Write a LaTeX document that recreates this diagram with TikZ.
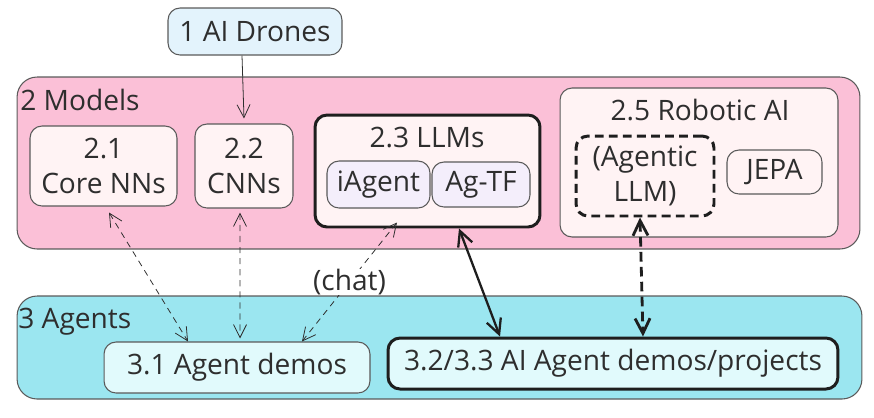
\documentclass[tikz,border=0pt]{standalone}
\usepackage{fontspec}
\setmainfont{Open Sans}
\usetikzlibrary{arrows.meta,positioning}
\definecolor{ink}       {HTML}{2E2E2E}
\definecolor{edge}      {HTML}{5A5A5A}
\definecolor{heavy}     {HTML}{1E1E1E}
\definecolor{modelpink} {HTML}{FBC0D7}
\definecolor{agentcyan} {HTML}{9BE6F0}
\definecolor{itempink}  {HTML}{FFF3F4}
\definecolor{itemlilac} {HTML}{F4EEFB}
\definecolor{dronesky}  {HTML}{E3F3FC}
\definecolor{demofill}  {HTML}{E1FAFC}
\tikzset{
  groupbox/.style  ={draw=edge, line width=0.6pt, rounded corners=0.4cm, inner sep=0pt},
  itembox/.style   ={draw=edge, fill=itempink, line width=0.6pt, rounded corners=0.24cm,
                     align=center, inner sep=0pt, text=ink,
                     font=\fontsize{16}{19.5}\selectfont},
  heavybox/.style  ={itembox, draw=heavy, line width=1.7pt},
  titletext/.style ={text=ink, inner sep=0pt, font=\fontsize{16}{19.5}\selectfont},
  thinarr/.style   ={{Straight Barb[length=2.6mm,width=2.6mm]}-{Straight Barb[length=2.6mm,width=2.6mm]},
                     line width=0.45pt, draw=ink, dash pattern=on 3.5pt off 2.8pt},
  boldarr/.style   ={{Straight Barb[length=3mm,width=3mm]}-{Straight Barb[length=3mm,width=3mm]},
                     line width=1.3pt, draw=heavy},
}
\begin{document}
\begin{tikzpicture}[x=0.02cm,y=-0.02cm]
  \useasboundingbox (0,0) rectangle (874,417);
  % containers
  \node[groupbox, fill=modelpink, minimum width=16.86cm, minimum height=3.44cm] (models) at (438.5,163) {};
  \node[titletext, anchor=west] (modelstitle) at (20,100) {2 Models};
  \node[groupbox, fill=agentcyan, minimum width=16.90cm, minimum height=2.06cm] (agents) at (439.5,347.5) {};
  \node[titletext, anchor=west] (agentstitle) at (18,322) {3 Agents};
  % top
  \node[itembox, fill=dronesky, minimum width=3.48cm, minimum height=0.94cm] (drones) at (255,31.5) {1 AI Drones};
  % models row
  \node[itembox, minimum width=2.94cm, minimum height=1.60cm] (core) at (103.5,166) {2.1\\Core NNs};
  \node[itembox, minimum width=1.96cm, minimum height=1.68cm] (cnn) at (244,166) {2.2\\CNNs};
  \node[heavybox, minimum width=4.50cm, minimum height=2.24cm] (llm) at (427.5,171) {};
  \node[titletext] (llmtitle) at (427,138) {2.3 LLMs};
  \node[itembox, fill=itemlilac, minimum width=2.06cm, minimum height=0.94cm] (iagent) at (378.5,184.5) {iAgent};
  \node[itembox, fill=itemlilac, minimum width=1.96cm, minimum height=0.90cm] (agtf) at (481,184.5) {Ag-TF};
  \node[itembox, minimum width=5.56cm, minimum height=2.98cm] (robot) at (699,162.5) {};
  \node[titletext] (robottitle) at (700,110) {2.5 Robotic AI};
  \node[heavybox, dash pattern=on 5pt off 3pt, minimum width=2.76cm, minimum height=1.60cm] (agllm) at (645,176) {(Agentic\\LLM)};
  \node[itembox, minimum width=1.90cm, minimum height=0.88cm] (jepa) at (774.5,172) {JEPA};
  % agents row
  \node[itembox, fill=demofill, minimum width=5.32cm, minimum height=1.02cm] (demos) at (237,367.5) {3.1 Agent demos};
  \node[heavybox, fill=demofill, minimum width=9.00cm, minimum height=1.02cm] (projects) at (613,363.5) {3.2/3.3 AI Agent demos/projects};
  % connectors
  \draw[-{Straight Barb[length=2.6mm,width=2.6mm]}, line width=0.45pt, draw=ink]
    ([xshift=-0.26cm]drones.south) -- ([yshift=0.1cm]cnn.north);
  \draw[thinarr] ([xshift=0.11cm,yshift=-0.12cm]core.south) -- ([xshift=-0.98cm]demos.north);
  \draw[thinarr] ([xshift=-0.08cm,yshift=-0.08cm]cnn.south) -- ([xshift=0.06cm,yshift=0.06cm]demos.north);
  \draw[thinarr] ([xshift=0.37cm,yshift=-0.28cm]iagent.south) -- ([xshift=1.3cm]demos.north)
    node[pos=0.5, fill=white, inner sep=3pt, titletext] (chat) {(chat)};
  \draw[boldarr] ([xshift=0.63cm]llm.south) -- ([xshift=-2.26cm]projects.north);
  \draw[boldarr, line width=1.6pt, dash pattern=on 5.5pt off 3pt] ([xshift=-0.1cm]agllm.south) -- ([xshift=0.6cm]projects.north);
\end{tikzpicture}
\end{document}
